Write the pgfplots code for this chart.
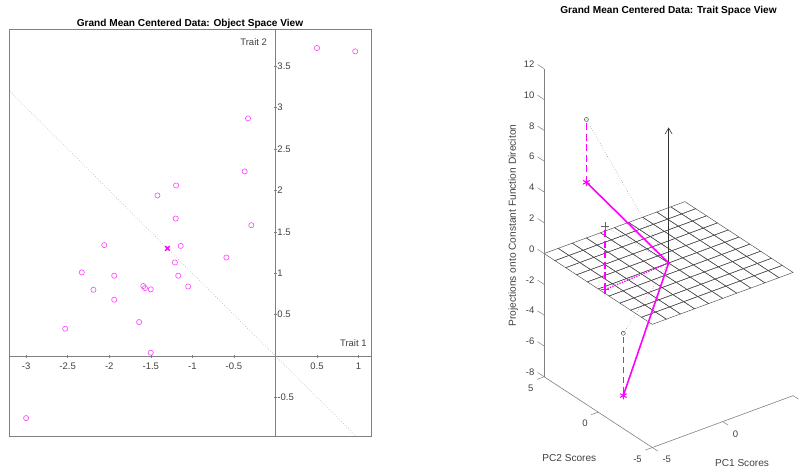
\documentclass[border=0pt]{standalone}
\usepackage{pgfplots}
\pgfplotsset{compat=1.18}
\usepackage{fontspec}
\setmainfont{Liberation Sans}
\usetikzlibrary{arrows.meta}
\definecolor{axisgray}{RGB}{128,128,128}
\definecolor{labelgray}{RGB}{64,64,64}
\definecolor{mag}{RGB}{255,0,255}
\begin{document}
\begin{tikzpicture}[font=\fontsize{9.5}{11}\selectfont]
\useasboundingbox (0,0) rectangle (803pt,468pt);
% ---------------- left panel ----------------
\begin{axis}[at={(9.5pt,32pt)}, anchor=south west, scale only axis,
  width=361.5pt, height=407pt,
  xmin=-3.2, xmax=1.15, ymin=-0.966, ymax=3.95,
  axis lines=middle, axis line style={axisgray,-,line width=0.6pt},
  xtick={-3,-2.5,-2,-1.5,-1,-0.5,0.5,1},
  xticklabels={-3,-2.5,-2,-1.5,-1,-0.5,0.5,1},
  ytick={-0.5,0.5,1,1.5,2,2.5,3,3.5},
  yticklabels={-0.5,0.5,1,1.5,2,2.5,3,3.5},
  tick style={axisgray,line width=0.5pt}, major tick length=3pt,
  ticklabel style={font=\fontsize{9.5}{11}\selectfont, text=labelgray},
  xticklabel style={yshift=-1.5pt},
  yticklabel style={anchor=west},
  clip mode=individual]
\addplot[axisgray!80, dotted, line width=0.5pt] coordinates {(-3.3,3.3) (1.2,-1.2)};
\addplot[only marks, mark=o, mark size=2.6pt, mag!75, mark options={line width=0.6pt}] coordinates {
(0.50,3.72) (0.96,3.68) (-0.33,2.87) (-0.37,2.23) (-1.195,2.06) (-1.42,1.94)
(-1.20,1.66) (-0.29,1.58) (-2.06,1.34) (-1.14,1.33) (-1.21,1.13) (-0.59,1.19)
(-2.33,1.01) (-1.94,0.97) (-1.17,0.97) (-1.05,0.84) (-1.59,0.845) (-1.57,0.82)
(-1.50,0.805) (-2.19,0.80) (-1.94,0.68) (-1.64,0.41) (-2.53,0.33) (-1.50,0.04)
(-3.00,-0.75)};
\addplot[only marks, mark=x, mark size=3.2pt, mag, mark options={line width=1.4pt}] coordinates {(-1.30,1.30)};
\draw[axisgray, line width=0.6pt] (rel axis cs:0,0) rectangle (rel axis cs:1,1);
\node[anchor=east, inner sep=0pt, text=labelgray] at (axis cs:-0.1,3.79) {Trait 2};
\node[anchor=east, inner sep=0pt, text=labelgray] at (axis cs:1.10,0.153) {Trait 1};
\end{axis}
\node[font=\bfseries\fontsize{10.1}{12}\selectfont] at (190pt,444pt) {Grand Mean Centered Data: Object Space View};
% ---------------- right panel ----------------
\begin{axis}[at={(668.6pt,205pt)}, anchor=origin,
  x={(14.08pt,5.19pt)}, y={(-10.82pt,7.08pt)}, z={(0pt,15.4pt)},
  xmin=-5, xmax=5, ymin=-5, ymax=5, zmin=-8, zmax=12,
  hide axis, clip=false,
  colormap={gridmap}{rgb255=(75,75,75) rgb255=(75,75,75)},
  point meta min=0, point meta max=1]
% grid plane z=0
\addplot3[mesh, mesh/cols=11, line width=0.45pt, point meta=0] coordinates {
(-5,-5,0) (-4,-5,0) (-3,-5,0) (-2,-5,0) (-1,-5,0) (0,-5,0) (1,-5,0) (2,-5,0) (3,-5,0) (4,-5,0) (5,-5,0)
(-5,-4,0) (-4,-4,0) (-3,-4,0) (-2,-4,0) (-1,-4,0) (0,-4,0) (1,-4,0) (2,-4,0) (3,-4,0) (4,-4,0) (5,-4,0)
(-5,-3,0) (-4,-3,0) (-3,-3,0) (-2,-3,0) (-1,-3,0) (0,-3,0) (1,-3,0) (2,-3,0) (3,-3,0) (4,-3,0) (5,-3,0)
(-5,-2,0) (-4,-2,0) (-3,-2,0) (-2,-2,0) (-1,-2,0) (0,-2,0) (1,-2,0) (2,-2,0) (3,-2,0) (4,-2,0) (5,-2,0)
(-5,-1,0) (-4,-1,0) (-3,-1,0) (-2,-1,0) (-1,-1,0) (0,-1,0) (1,-1,0) (2,-1,0) (3,-1,0) (4,-1,0) (5,-1,0)
(-5,0,0) (-4,0,0) (-3,0,0) (-2,0,0) (-1,0,0) (0,0,0) (1,0,0) (2,0,0) (3,0,0) (4,0,0) (5,0,0)
(-5,1,0) (-4,1,0) (-3,1,0) (-2,1,0) (-1,1,0) (0,1,0) (1,1,0) (2,1,0) (3,1,0) (4,1,0) (5,1,0)
(-5,2,0) (-4,2,0) (-3,2,0) (-2,2,0) (-1,2,0) (0,2,0) (1,2,0) (2,2,0) (3,2,0) (4,2,0) (5,2,0)
(-5,3,0) (-4,3,0) (-3,3,0) (-2,3,0) (-1,3,0) (0,3,0) (1,3,0) (2,3,0) (3,3,0) (4,3,0) (5,3,0)
(-5,4,0) (-4,4,0) (-3,4,0) (-2,4,0) (-1,4,0) (0,4,0) (1,4,0) (2,4,0) (3,4,0) (4,4,0) (5,4,0)
(-5,5,0) (-4,5,0) (-3,5,0) (-2,5,0) (-1,5,0) (0,5,0) (1,5,0) (2,5,0) (3,5,0) (4,5,0) (5,5,0)
};
% dotted gray lines from points to origin
\addplot3[axisgray, dotted, line width=0.5pt] coordinates {(-4.685,1.5,10.21) (0,0,0)};
\addplot3[axisgray, dotted, line width=0.5pt] coordinates {(0,0,0) (-4.37,-1.5,-2.40)};
\addplot3[axisgray, dotted, line width=0.5pt] coordinates {(-4.73,-0.28,4.10) (0,0,0)};
% black arrow
\addplot3[black!80, line width=0.6pt, -{Straight Barb[length=6pt,width=7pt]}] coordinates {(0,0,0) (0,0,8.8)};
% magenta solid path
\addplot3[draw=mag, line width=1.6pt] coordinates {(-4.685,1.5,6.13) (0,0,0) (-4.37,-1.5,-6.45)};
% magenta dotted in plane
\addplot3[draw=mag, line width=1.3pt, dash pattern=on 1.3pt off 1.3pt] coordinates {(-4.73,-0.28,0) (0,0,0)};
% markers
\addplot3[only marks, mark=o, mark size=2pt, black!70, mark options={line width=0.5pt}] coordinates {(-4.685,1.5,10.21) (-4.37,-1.5,-2.40)};
\addplot3[only marks, mark=+, mark size=4.2pt, black!60, mark options={line width=0.6pt}] coordinates {(-4.73,-0.28,4.10)};
% magenta dashed verticals
\addplot3[draw=mag, line width=1.5pt, dash pattern=on 7pt off 3.5pt] coordinates {(-4.685,1.5,9.95) (-4.685,1.5,6.13)};
\addplot3[mag, mark=none, solid, line width=1.6pt, dash pattern=on 6.5pt off 3.5pt] coordinates {(-4.37,-1.5,-2.62) (-4.37,-1.5,-6.3)};
\addplot3[draw=mag, line width=1.5pt, dash pattern=on 7pt off 3.5pt] coordinates {(-4.73,-0.28,3.85) (-4.73,-0.28,0)};
\addplot3[only marks, mark=asterisk, mark size=3.8pt, mag, mark options={line width=1.1pt}] coordinates {(-4.685,1.5,6.13) (-4.37,-1.5,-6.45)};
\addplot3[only marks, mark=+, mark size=4.2pt, mag, mark options={line width=1.2pt}] coordinates {(-4.73,-0.28,0)};
% axis lines
\draw[axisgray, line width=0.6pt] (axis cs:-5,-5,-8) -- (axis cs:5,-5,-8);
\draw[axisgray, line width=0.6pt] (axis cs:-5,-5,-8) -- (axis cs:-5,5,-8);
\draw[axisgray, line width=0.6pt] (axis cs:-5,5,-8) -- (axis cs:-5,5,12);
% ticks
\pgfplotsinvokeforeach{-5,0,5}{
  \draw[axisgray, line width=0.5pt] (axis cs:#1,-5,-8) -- (axis cs:#1,-5.5,-8);
  \draw[axisgray, line width=0.5pt] (axis cs:-5,#1,-8) -- (axis cs:-5.5,#1,-8);
}
\pgfplotsinvokeforeach{-8,-6,-4,-2,0,2,4,6,8,10,12}{
  \draw[axisgray, line width=0.5pt] (axis cs:-5,5,#1) -- (axis cs:-5,5.6,#1);
  \node[anchor=east, inner sep=0pt, text=labelgray, xshift=-9.5pt, yshift=4.5pt] at (axis cs:-5,5,#1) {#1};
}
\node[anchor=north west, inner sep=0pt, text=labelgray, xshift=10pt, yshift=-8.7pt] at (axis cs:-5,-5,-8) {-5};
\node[anchor=north west, inner sep=0pt, text=labelgray, xshift=10pt, yshift=-8.7pt] at (axis cs:0,-5,-8) {0};
\node[anchor=north west, inner sep=0pt, text=labelgray, xshift=10pt, yshift=-8.7pt] at (axis cs:5,-5,-8) {5};
\node[anchor=north east, inner sep=0pt, text=labelgray, xshift=-10.4pt, yshift=-7.9pt] at (axis cs:-5,-5,-8) {-5};
\node[anchor=north east, inner sep=0pt, text=labelgray, xshift=-10.4pt, yshift=-7.9pt] at (axis cs:-5,0,-8) {0};
\node[anchor=north east, inner sep=0pt, text=labelgray, xshift=-10.4pt, yshift=-7.9pt] at (axis cs:-5,5,-8) {5};
\end{axis}
\node[font=\bfseries\fontsize{10.1}{12}\selectfont] at (668.5pt,457.3pt) {Grand Mean Centered Data: Trait Space View};
\node[text=labelgray, font=\fontsize{10.1}{12}\selectfont] at (569.3pt,9.7pt) {PC2 Scores};
\node[text=labelgray, font=\fontsize{10.1}{12}\selectfont] at (742pt,5.3pt) {PC1 Scores};
\node[text=labelgray, rotate=90, font=\fontsize{10.2}{12}\selectfont] at (513.3pt,242.5pt) {Projections onto Constant Function Direciton};
\end{tikzpicture}
\end{document}
